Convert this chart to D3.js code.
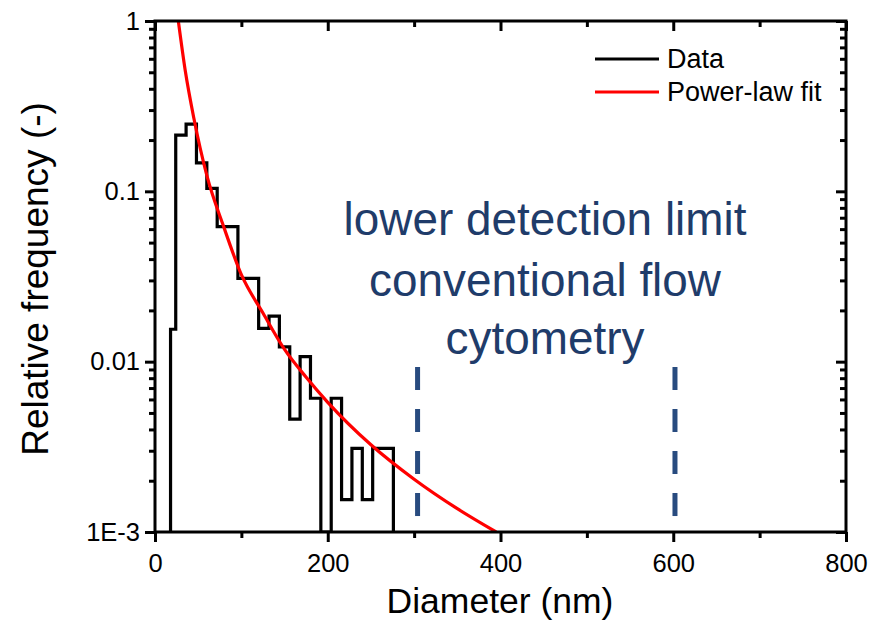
<!DOCTYPE html>
<html>
<head>
<meta charset="utf-8">
<script src="https://cdn.jsdelivr.net/npm/d3@7"></script>
<style>
  body { margin: 0; background: #fff; }
  svg { display: block; }
  text { font-family: "Liberation Sans", Arial, Helvetica, sans-serif; }
</style>
</head>
<body>
<svg id="chart" width="889" height="640"></svg>
<script>
// Histogram of particle diameters (nm): bin edges and relative frequency per bin
const binEdges = [18, 24, 36, 48, 60, 72, 84, 96, 108, 120, 132, 144, 156, 168, 180, 192, 204, 216, 228, 240, 252, 264, 276];
const binFreq  = [0.0155, 0.214, 0.248, 0.147, 0.104, 0.062, 0.062, 0.0308, 0.0308, 0.0157, 0.0185, 0.0122,
                  0.0046, 0.0107, 0.0061, 0, 0.0061, 0.00155, 0.0031, 0.00155, 0.0031, 0.0031];

// Power-law fit curve
const fitDiameter = [27, 35, 45, 60, 80, 100, 125, 150, 175, 200, 250, 300, 350, 395];
const fitFreq     = [1.0, 0.512, 0.2685, 0.124, 0.061, 0.0324, 0.0193, 0.0118, 0.0081, 0.00577, 0.00325, 0.00204, 0.00137, 0.001];

// Axis ticks
const xTicks      = [0, 200, 400, 600, 800];
const xMinorTicks = [100, 300, 500, 700];
const yTicks      = [1e-3, 1e-2, 1e-1, 1];
const yTickLabels = ["1E-3", "0.01", "0.1", "1"];

// Detection-limit range of conventional flow cytometry (nm)
const detectionLimits = [304, 602];
const annotationLines = ["lower detection limit", "conventional flow", "cytometry"];

const legendLabels = ["Data", "Power-law fit"];
const legendColors = ["#000000", "#ff0000"];

// ---- layout ----
const plot = { left: 155, right: 846, top: 21, bottom: 532 };
const svg = d3.select("#chart");

const x = d3.scaleLinear().domain([0, 800]).range([plot.left, plot.right]);
const y = d3.scaleLog().domain([1e-3, 1]).range([plot.bottom, plot.top]);

svg.append("defs").append("clipPath").attr("id", "plotClip")
  .append("rect")
  .attr("x", plot.left).attr("y", plot.top)
  .attr("width", plot.right - plot.left).attr("height", plot.bottom - plot.top);

// ---- histogram as a step outline ----
const yOf = v => v > 0 ? y(v) : plot.bottom;
const steps = [[binEdges[0], 0]];
binFreq.forEach((v, i) => {
  steps.push([binEdges[i], v]);
  steps.push([binEdges[i + 1], v]);
});
steps.push([binEdges[binEdges.length - 1], 0]);

svg.append("path")
  .datum(steps)
  .attr("clip-path", "url(#plotClip)")
  .attr("fill", "none")
  .attr("stroke", "#000")
  .attr("stroke-width", 3.2)
  .attr("stroke-linejoin", "miter")
  .attr("d", d3.line().x(d => x(d[0])).y(d => yOf(d[1])));

// ---- power-law fit ----
svg.append("path")
  .datum(fitDiameter.map((d, i) => [d, fitFreq[i]]))
  .attr("clip-path", "url(#plotClip)")
  .attr("fill", "none")
  .attr("stroke", "#ff0000")
  .attr("stroke-width", 3.2)
  .attr("d", d3.line().x(d => x(d[0])).y(d => y(d[1])).curve(d3.curveMonotoneX));

// ---- detection-limit markers ----
const dashTop = 0.0093, dashBottom = 0.00124;
svg.selectAll("line.limit")
  .data(detectionLimits)
  .join("line")
  .attr("class", "limit")
  .attr("x1", d => x(d)).attr("x2", d => x(d))
  .attr("y1", y(dashTop)).attr("y2", y(dashBottom))
  .attr("stroke", "#284b7f")
  .attr("stroke-width", 5)
  .attr("stroke-dasharray", "23 19");

// ---- annotation text ----
const annot = svg.append("g")
  .attr("fill", "#1f3c6a")
  .style("font-family", "Carlito, Calibri, Lato, 'Open Sans', sans-serif");
const annotBaselines = [235, 296, 354];
annot.selectAll("text")
  .data(annotationLines)
  .join("text")
  .attr("x", 545)
  .attr("y", (d, i) => annotBaselines[i])
  .attr("text-anchor", "middle")
  .attr("font-size", 40)
  .text(d => d);
// size the block so the first line spans its intended width
{
  const first = annot.select("text").node();
  const w = first.getComputedTextLength();
  const fs = 40 * 403 / w;
  annot.selectAll("text").attr("font-size", fs);
}

// ---- axes ----
function styleAxis(g, fontSize) {
  g.select(".domain").remove();
  g.selectAll(".tick line").attr("stroke", "#000").attr("stroke-width", 3);
  g.selectAll(".tick text").attr("fill", "#000")
    .style("font-family", "'Liberation Sans', Arial, sans-serif")
    .style("font-size", fontSize + "px");
}

// bottom (ticks outward, labelled)
svg.append("g").attr("transform", `translate(0,${plot.bottom})`)
  .call(d3.axisBottom(x).tickValues(xTicks).tickSize(10).tickPadding(12).tickFormat(d3.format("d")))
  .call(g => styleAxis(g, 25.5));
svg.append("g").attr("transform", `translate(0,${plot.bottom})`)
  .call(d3.axisBottom(x).tickValues(xMinorTicks).tickSize(6).tickFormat(""))
  .call(g => styleAxis(g, 25));

// top (ticks inward)
svg.append("g").attr("transform", `translate(0,${plot.top})`)
  .call(d3.axisBottom(x).tickValues(xTicks).tickSize(10).tickFormat(""))
  .call(g => styleAxis(g, 25));
svg.append("g").attr("transform", `translate(0,${plot.top})`)
  .call(d3.axisBottom(x).tickValues(xMinorTicks).tickSize(6).tickFormat(""))
  .call(g => styleAxis(g, 25));

// minor log ticks 2..9 within each decade
const yMinorTicks = [];
yTicks.slice(0, -1).forEach(dec => { for (let k = 2; k <= 9; k++) yMinorTicks.push(dec * k); });

// left (ticks outward, labelled)
svg.append("g").attr("transform", `translate(${plot.left},0)`)
  .call(d3.axisLeft(y).tickValues(yTicks).tickSize(10).tickPadding(5).tickFormat((d, i) => yTickLabels[i]))
  .call(g => styleAxis(g, 25.5));
svg.append("g").attr("transform", `translate(${plot.left},0)`)
  .call(d3.axisLeft(y).tickValues(yMinorTicks).tickSize(6).tickFormat(""))
  .call(g => styleAxis(g, 25));

// right (ticks inward)
svg.append("g").attr("transform", `translate(${plot.right},0)`)
  .call(d3.axisLeft(y).tickValues(yTicks).tickSize(10).tickFormat(""))
  .call(g => styleAxis(g, 25));
svg.append("g").attr("transform", `translate(${plot.right},0)`)
  .call(d3.axisLeft(y).tickValues(yMinorTicks).tickSize(6).tickFormat(""))
  .call(g => styleAxis(g, 25));

// frame
svg.append("rect")
  .attr("x", plot.left).attr("y", plot.top)
  .attr("width", plot.right - plot.left).attr("height", plot.bottom - plot.top)
  .attr("fill", "none").attr("stroke", "#000").attr("stroke-width", 3);

// ---- axis titles ----
svg.append("text")
  .attr("x", 500)
  .attr("y", 613)
  .attr("text-anchor", "middle")
  .attr("font-size", 35.5)
  .text("Diameter (nm)");

svg.append("text")
  .attr("transform", `translate(48,279) rotate(-90)`)
  .attr("text-anchor", "middle")
  .attr("font-size", 37)
  .text("Relative frequency (-)");

// ---- legend ----
const legend = svg.append("g");
legendLabels.forEach((label, i) => {
  const ly = 59 + i * 33;
  legend.append("line")
    .attr("x1", 595).attr("x2", 659).attr("y1", ly).attr("y2", ly)
    .attr("stroke", legendColors[i]).attr("stroke-width", 3);
  legend.append("text")
    .attr("x", 667).attr("y", ly)
    .attr("dy", "0.35em")
    .attr("font-size", 27)
    .text(label);
});
</script>
</body>
</html>
